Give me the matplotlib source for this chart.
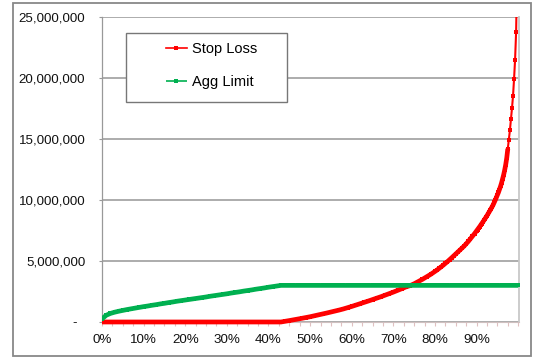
import numpy as np
import matplotlib
matplotlib.use("Agg")
from matplotlib import pyplot as plt
from matplotlib.patches import Rectangle
from matplotlib.ticker import MultipleLocator, FuncFormatter

plt.rcParams['font.family'] = ['Liberation Sans', 'DejaVu Sans']

# percentile grid for stop loss (coarse in the body, finer in the tail)
stop_pct = np.concatenate([np.arange(0, 80, 1.0),
                           np.arange(80, 90, 0.5),
                           np.arange(90, 100, 0.25)])

# stop loss values, millions
stop_body = [0.0] * 44 + [
    0.055, 0.115, 0.175, 0.24, 0.30, 0.365, 0.43,                    # 44-50
    0.505, 0.58, 0.655, 0.735, 0.815, 0.895, 0.98, 1.07, 1.17, 1.275,  # 51-60
    1.385, 1.495, 1.605, 1.72, 1.835, 1.95, 2.07, 2.195, 2.32, 2.45,  # 61-70
    2.585, 2.725, 2.87, 2.98, 3.13, 3.31, 3.50, 3.70, 3.91,           # 71-79
]
stop_mid = [4.14, 4.26, 4.39, 4.52, 4.66, 4.80, 4.95, 5.10, 5.26, 5.42,
            5.58, 5.74, 5.90, 6.05, 6.22, 6.41, 6.60, 6.81, 7.02, 7.24]
stop_tail = [7.47, 7.58, 7.70, 7.82, 7.95, 8.07, 8.19, 8.32,
             8.45, 8.58, 8.72, 8.86, 9.00, 9.15, 9.30, 9.46,
             9.62, 9.80, 10.0, 10.2, 10.4, 10.62, 10.86, 11.12,
             11.4, 11.72, 12.06, 12.45, 12.9, 13.45, 14.2, 14.95,
             15.7, 16.6, 17.5, 18.5, 19.9, 21.5, 23.8, 29.0]
stop_loss = np.array(stop_body + stop_mid + stop_tail) * 1e6

# aggregate limit, millions, 1% steps
agg_pct = np.arange(0, 101, 1.0)
agg_limit = np.array([
    0.25, 0.55, 0.70, 0.80, 0.88, 0.95, 1.02, 1.08, 1.14, 1.20,
    1.26, 1.31, 1.37, 1.42, 1.48, 1.53, 1.59, 1.64, 1.70, 1.75,
    1.80, 1.85, 1.90, 1.95, 2.00, 2.05, 2.11, 2.16, 2.21, 2.26,
    2.31, 2.37, 2.42, 2.47, 2.53, 2.58, 2.63, 2.69, 2.74, 2.79,
    2.85, 2.90, 2.95, 3.00] + [3.0] * 57) * 1e6

x_labels = ["0%", "10%", "20%", "30%", "40%", "50%", "60%", "70%", "80%", "90%"]

RED = '#ff0000'
GREEN = '#00b050'

fig = plt.figure(figsize=(5.33, 3.58), dpi=100)
ax = fig.add_axes([0.1914, 0.1006, 0.7824, 0.8519])

# clip at the top of the plot area only, so the zero line is drawn in full
clip = Rectangle((0, -0.05), 1, 1.05, transform=ax.transAxes)

# dense markers merge into a solid band where the curve is flat
body = stop_pct <= 97.5
band, = ax.plot(stop_pct[body], stop_loss[body], color=RED, lw=3.4,
                solid_capstyle='butt', solid_joinstyle='round', zorder=3)
red, = ax.plot(stop_pct, stop_loss, color=RED, lw=1.5, marker='s',
               ms=3.3, mew=0, label='Stop Loss', zorder=3)
green, = ax.plot(agg_pct, agg_limit, color=GREEN, lw=3.4, marker='s',
                 ms=3.3, mew=0, solid_capstyle='butt', label='Agg Limit', zorder=4)
for ln in (band, red, green):
    ln.set_clip_path(clip)

ax.set_xlim(0, 100.2)
ax.set_ylim(0, 25e6)

ax.yaxis.set_major_locator(MultipleLocator(5e6))
ax.yaxis.set_major_formatter(FuncFormatter(
    lambda v, p: "-  " if v == 0 else "{:,.0f}".format(v)))
ax.set_xticks(np.arange(0, 100, 10))
ax.set_xticklabels(x_labels)
ax.xaxis.set_minor_locator(MultipleLocator(2.5))

ax.grid(axis='y', color='#a6a6a6', lw=1.3)
ax.set_axisbelow(True)
ax.tick_params(axis='y', length=2.5, width=0.8, color='#999999', pad=9.5,
               labelsize=9.6, labelcolor='#111111')
ax.tick_params(axis='x', which='both', length=3, width=0.8, color='#e0c0c0',
               pad=5.5, labelsize=9.6, labelcolor='#111111')

ax.spines['top'].set_visible(False)
ax.spines['left'].set_color('#999999')
ax.spines['left'].set_linewidth(0.9)
ax.spines['right'].set_color('#c8c8c8')
ax.spines['right'].set_linewidth(1.3)
ax.spines['bottom'].set_color('#d0c0c0')

# legend box
ax.add_patch(Rectangle((0.0570, 0.7200), 0.3860, 0.2270, transform=ax.transAxes,
                       fill=True, facecolor='white', edgecolor='#777777',
                       lw=1.0, zorder=5))
leg = ax.legend(handles=[red, green], loc='upper left',
                bbox_to_anchor=(0.125, 0.955), frameon=False, fontsize=10.5,
                handlelength=1.45, handletextpad=0.35, labelspacing=1.25,
                borderpad=0.3, markerscale=0.8)
leg.set_zorder(6)
for h in leg.legend_handles:
    h.set_linewidth(1.2)

# chart area border
fig.add_artist(Rectangle((0.0244, 0.0056), 0.9718, 0.986, transform=fig.transFigure,
                         fill=False, edgecolor='#888888', lw=1.3))

plt.savefig("out.png", dpi=100)
plt.close()
